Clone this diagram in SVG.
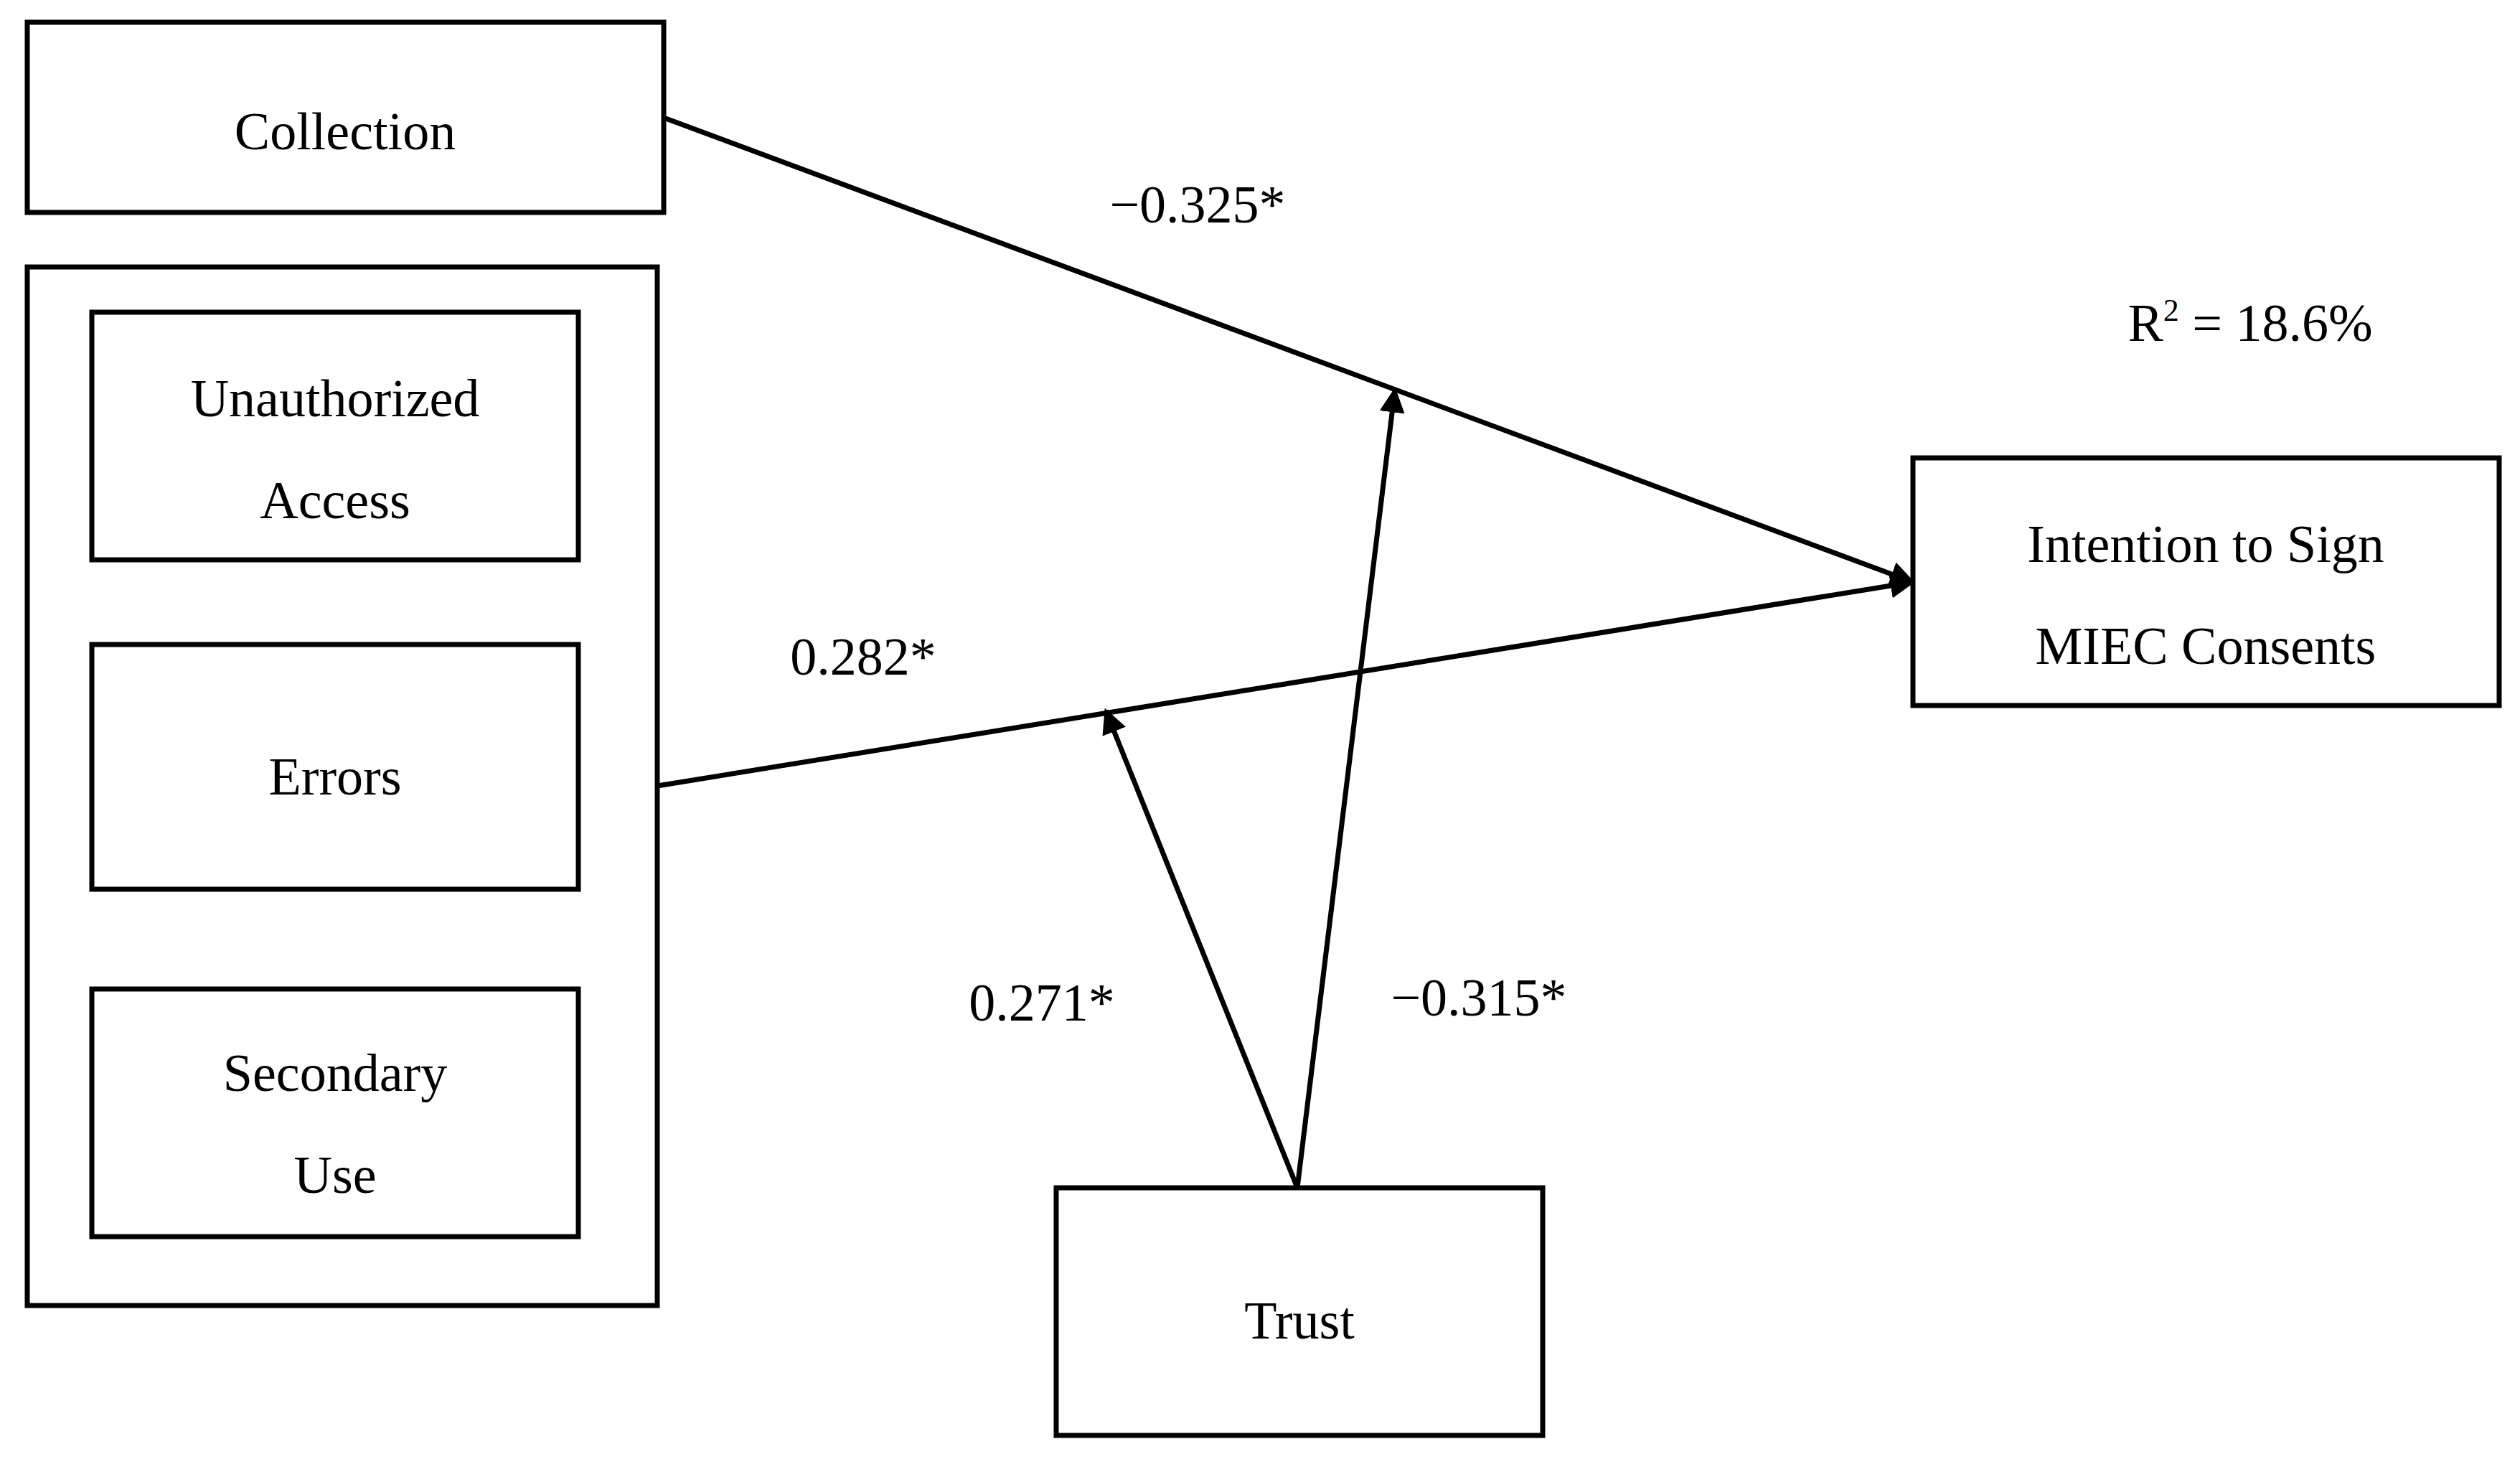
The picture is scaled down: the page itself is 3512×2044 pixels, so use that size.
<svg xmlns="http://www.w3.org/2000/svg" width="3512" height="2044" viewBox="0 0 3512 2044">
<style>
.b{fill:#fff;stroke:#000;stroke-width:7}
.t{font-family:"Liberation Serif","DejaVu Serif",serif;font-size:74px;text-anchor:middle;fill:#000}
.c{stroke:#000;stroke-width:7;fill:none;marker-end:url(#a)}
</style>
<defs><marker id="a" viewBox="0 0 10 10" refX="9" refY="5" markerWidth="5" markerHeight="5" orient="auto" markerUnits="strokeWidth"><path d="M0,0L10,5L0,10z" fill="#000"/></marker></defs>
<rect width="3512" height="2044" fill="#fff"/>
<g id="outer"><rect class="b" x="38" y="372" width="878" height="1447"/></g>
<g id="collection"><rect class="b" x="38" y="31" width="887" height="265"/><text class="t" x="481" y="208">Collection</text></g>
<g id="unauth"><rect class="b" x="128" y="435" width="678" height="345"/><text class="t" x="467" y="580">Unauthorized</text><text class="t" x="467" y="722">Access</text></g>
<g id="errors"><rect class="b" x="128" y="898" width="678" height="341"/><text class="t" x="467" y="1107">Errors</text></g>
<g id="secondary"><rect class="b" x="128" y="1378" width="678" height="345"/><text class="t" x="467" y="1520">Secondary</text><text class="t" x="467" y="1662">Use</text></g>
<g id="intention"><rect class="b" x="2666" y="638" width="817" height="345"/><text class="t" x="3074" y="783">Intention to Sign</text><text class="t" x="3074" y="925">MIEC Consents</text></g>
<g id="trust"><rect class="b" x="1472" y="1655" width="678" height="345"/><text class="t" x="1811" y="1865">Trust</text></g>
<g id="connectors">
<line class="c" x1="925" y1="164" x2="2666" y2="811"/>
<line class="c" x1="916" y1="1095" x2="2666" y2="811"/>
<line class="c" x1="1808" y1="1655" x2="1944" y2="543"/>
<line class="c" x1="1808" y1="1655" x2="1541" y2="990"/>
</g>
<g id="labels">
<text class="t" x="1669" y="310">−0.325*</text>
<text class="t" x="3136" y="475">R<tspan font-size="44" dy="-28">2</tspan><tspan dy="28"> = 18.6%</tspan></text>
<text class="t" x="1203" y="940">0.282*</text>
<text class="t" x="1452" y="1422">0.271*</text>
<text class="t" x="2061" y="1415">−0.315*</text>
</g>
</svg>
